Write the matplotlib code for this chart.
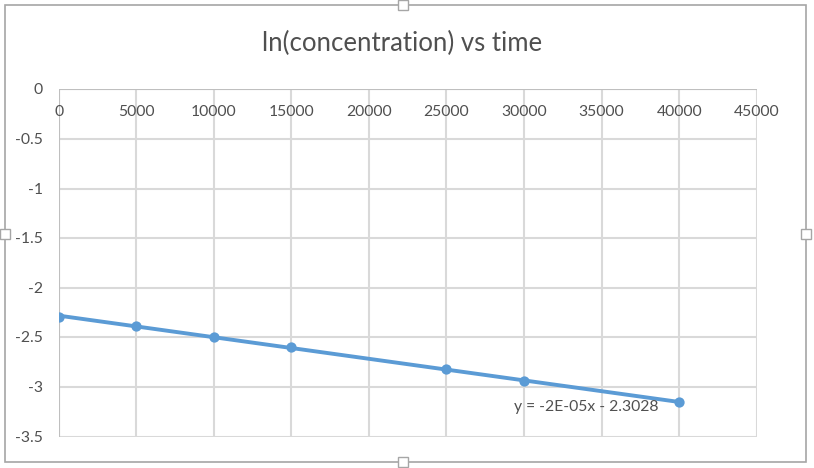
import numpy as np
import matplotlib
matplotlib.use("Agg")
import matplotlib.pyplot as plt
from matplotlib.patches import Rectangle

# ---- data ----
time_s = [0, 5000, 10000, 15000, 25000, 30000, 40000]
ln_conc = [-2.29, -2.38, -2.50, -2.60, -2.82, -2.94, -3.15]
x_ticks = [0, 5000, 10000, 15000, 20000, 25000, 30000, 35000, 40000, 45000]
y_ticks = [0, -0.5, -1, -1.5, -2, -2.5, -3, -3.5]
title = "ln(concentration) vs time"
equation = "y = -2E-05x - 2.3028"

FONT = "Lato"
TXT = "#505050"
BLUE = "#5B9BD5"
GRID = "#D9D9D9"

W, H = 814, 468
fig = plt.figure(figsize=(W / 100, H / 100), dpi=100)
fig.patch.set_facecolor("white")

# axes placement (pixels)
left, right, top, bottom = 58.7, 756.7, 89.3, 436.7
ax = fig.add_axes([left / W, 1 - bottom / H, (right - left) / W, (bottom - top) / H])
ax.set_xlim(0, 45000)
ax.set_ylim(-3.5, 0)
ax.set_xticks(x_ticks)
ax.set_yticks(y_ticks)
ax.grid(True, color=GRID, linewidth=1.5)
ax.set_axisbelow(True)
for s in ["right", "bottom", "top", "left"]:
    ax.spines[s].set_visible(False)
ax.axhline(0, color="#BFBFBF", linewidth=1.5, zorder=1)
ax.axvline(0, color="#BFBFBF", linewidth=1.5, zorder=1)
ax.tick_params(length=0)
ax.set_xticklabels([])
ax.set_yticklabels([])

# x labels just below zero line
for xv in x_ticks:
    ax.annotate(f"{xv}", xy=(xv, 0), xytext=(0, -23), textcoords="offset pixels",
                ha="center", va="center", fontsize=11.3, family=FONT, color=TXT)
for yv in y_ticks:
    lab = f"{yv:g}"
    ax.annotate(lab, xy=(0, yv), xytext=(-16, -1), textcoords="offset pixels",
                ha="right", va="center", fontsize=11.3, family=FONT, color=TXT,
                annotation_clip=False)

# trendline
t = np.array(time_s, dtype=float)
c = np.array(ln_conc, dtype=float)
m, b = np.polyfit(t, c, 1)
xx = np.array([t.min(), t.max()])
ax.plot(xx, m * xx + b, color=BLUE, linewidth=2.8, solid_capstyle="round", zorder=3)
ax.scatter(t, c, s=55, color=BLUE, zorder=4, linewidths=0)

ax.annotate(equation, xy=(30000, -3), xytext=(514 - (left + 30000 / 45000 * (right - left)), -(407.7 - 387.3)),
            textcoords="offset pixels", ha="left", va="center", fontsize=11.3,
            family=FONT, color=TXT)

fig.text(402 / W, 1 - 43 / H, title, ha="center", va="center", fontsize=18.5,
         family=FONT, color=TXT)

# chart frame and handles
fig.patches.append(Rectangle((5 / W, 1 - 462 / H), 801 / W, 457 / H, transform=fig.transFigure,
                             fill=False, edgecolor="#A6A6A6", linewidth=1.2))
for (hx, hy) in [(403, 5), (403, 462), (5, 234), (806, 234)]:
    fig.patches.append(Rectangle(((hx - 5) / W, 1 - (hy + 5) / H), 10 / W, 10 / H,
                                 transform=fig.transFigure, facecolor="white",
                                 edgecolor="#A6A6A6", linewidth=1.0, zorder=5))

fig.savefig("out.png", dpi=100, facecolor="white")
